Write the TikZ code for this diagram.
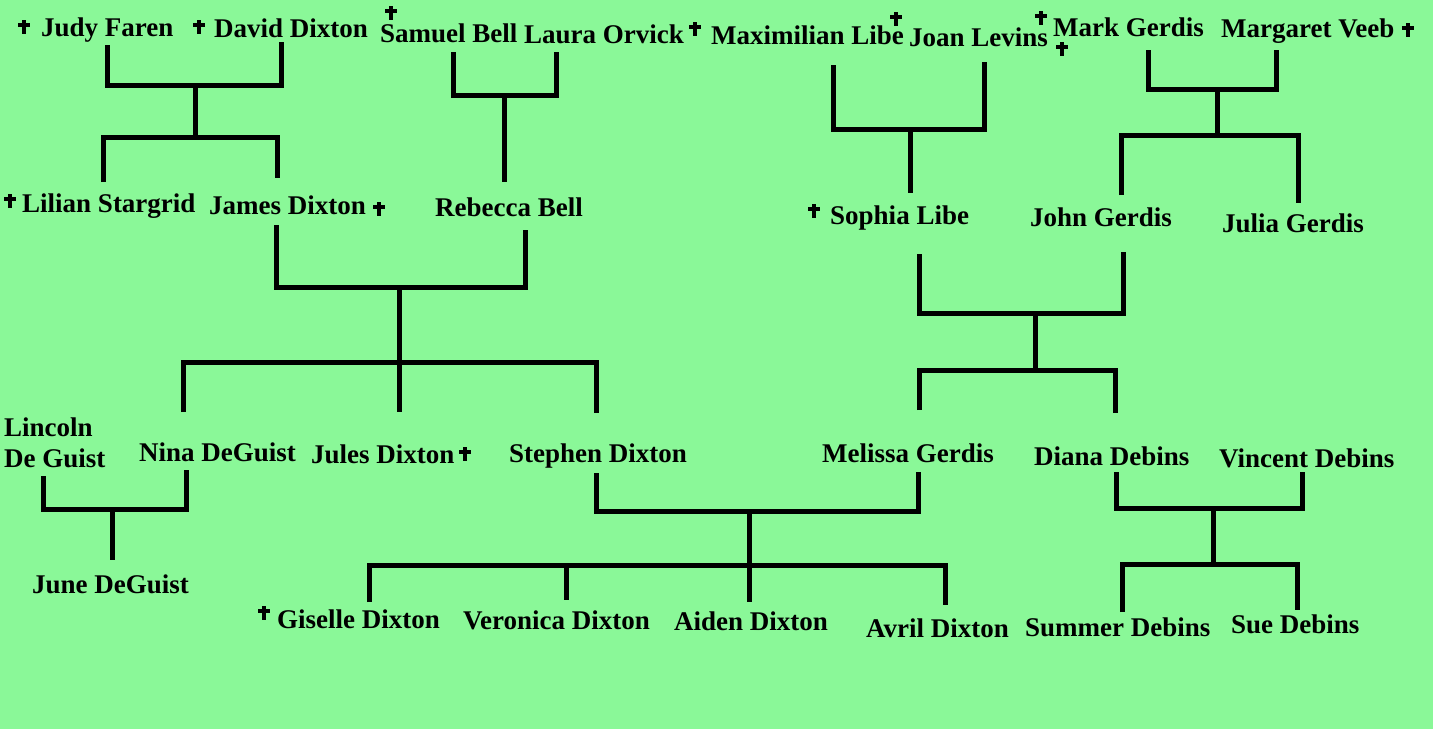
\documentclass[tikz,border=0pt]{standalone}
\usepackage{fontspec}
\setmainfont{Liberation Serif}
\usepackage{xcolor}
\usepackage{tikz}
\definecolor{treegreen}{RGB}{138,248,152}

\begin{document}
\begin{tikzpicture}[
    x=1pt, y=-1pt,
    person/.style={font=\bfseries\fontsize{27}{31}\selectfont, inner sep=0pt, anchor=base west, align=left},
    bond/.style={line width=5pt},
    deceased/.pic={\fill (-2,-7) rectangle (2,7); \fill (-6,-4.5) rectangle (6,-0.5);}
]
    \fill [treegreen] (0,0) rectangle (1433,729);
    \useasboundingbox (0,0) rectangle (1433,729);

    % oldest generation
    \node [person] (judy) at (41,36) {Judy Faren};
    \node [person] (david) at (214,37) {David Dixton};
    \node [person] (samuel) at (380,42) {Samuel Bell};
    \node [person] (laura) at (524,43) {Laura Orvick};
    \node [person] (maximilian) at (711,44) {Maximilian Libe};
    \node [person] (joan) at (909,46) {Joan Levins};
    \node [person] (mark) at (1053,36) {Mark Gerdis};
    \node [person] (margaret) at (1221,37) {Margaret Veeb};

    % second generation
    \node [person] (lilian) at (22,212) {Lilian Stargrid};
    \node [person] (james) at (209,214) {James Dixton};
    \node [person] (rebecca) at (435,216) {Rebecca Bell};
    \node [person] (sophia) at (830,224) {Sophia Libe};
    \node [person] (john) at (1030,226) {John Gerdis};
    \node [person] (julia) at (1222,232) {Julia Gerdis};

    % third generation
    \node [person] (lincoln) at (4,467) {Lincoln\\De Guist};
    \node [person] (nina) at (139,461) {Nina DeGuist};
    \node [person] (jules) at (311,463) {Jules Dixton};
    \node [person] (stephen) at (509,462) {Stephen Dixton};
    \node [person] (melissa) at (822,462) {Melissa Gerdis};
    \node [person] (diana) at (1034,465) {Diana Debins};
    \node [person] (vincent) at (1219,467) {Vincent Debins};

    % youngest generation
    \node [person] (june) at (32,593) {June DeGuist};
    \node [person] (giselle) at (277,628) {Giselle Dixton};
    \node [person] (veronica) at (463,629) {Veronica Dixton};
    \node [person] (aiden) at (674,630) {Aiden Dixton};
    \node [person] (avril) at (866,637) {Avril Dixton};
    \node [person] (summer) at (1025,636) {Summer Debins};
    \node [person] (sue) at (1231,633) {Sue Debins};

    % crosses
    \pic at (24,27) {deceased};
    \pic at (199,27) {deceased};
    \pic at (391,13) {deceased};
    \pic at (695,29) {deceased};
    \pic at (896,19) {deceased};
    \pic at (1041,18) {deceased};
    \pic at (1062,49) {deceased};
    \pic at (1408,30) {deceased};
    \pic at (10,201) {deceased};
    \pic at (379,209) {deceased};
    \pic at (814,211) {deceased};
    \pic at (465,454) {deceased};
    \pic at (264,613) {deceased};

    % marriage and child junctions
    \coordinate (dixton-m) at (195,85);
    \coordinate (dixton-c) at (195,137);
    \coordinate (bell-m) at (504,95);
    \coordinate (james-m) at (399,287);
    \coordinate (james-c) at (399,362);
    \coordinate (libe-m) at (910,129);
    \coordinate (gerdis-m) at (1217,89);
    \coordinate (gerdis-c) at (1217,135);
    \coordinate (john-m) at (1035,313);
    \coordinate (john-c) at (1035,370);
    \coordinate (nina-m) at (112,509);
    \coordinate (stephen-m) at (749,511);
    \coordinate (stephen-c) at (749,565);
    \coordinate (debins-m) at (1213,508);
    \coordinate (debins-c) at (1213,564);

    \draw [bond] (107,45) |- (dixton-m) -| (281,42);
    \draw [bond] (dixton-m) -- (dixton-c);
    \draw [bond] (103,182) |- (dixton-c) -| (277,178);

    \draw [bond] (453,52) |- (bell-m) -| (556,52);
    \draw [bond] (bell-m) -- (504,182);

    \draw [bond] (276,225) |- (james-m) -| (525,230);
    \draw [bond] (james-m) -- (399,412);
    \draw [bond] (183,412) |- (james-c) -| (596,413);

    \draw [bond] (833,65) |- (libe-m) -| (984,62);
    \draw [bond] (libe-m) -- (910,193);

    \draw [bond] (1148,50) |- (gerdis-m) -| (1276,50);
    \draw [bond] (gerdis-m) -- (gerdis-c);
    \draw [bond] (1121,195) |- (gerdis-c) -| (1298,203);

    \draw [bond] (919,254) |- (john-m) -| (1123,252);
    \draw [bond] (john-m) -- (john-c);
    \draw [bond] (919,410) |- (john-c) -| (1115,413);

    \draw [bond] (43,476) |- (nina-m) -| (186,470);
    \draw [bond] (nina-m) -- (112,560);

    \draw [bond] (596,473) |- (stephen-m) -| (918,472);
    \draw [bond] (stephen-m) -- (749,602);
    \draw [bond] (369,602) |- (stephen-c) -| (945,605);
    \draw [bond] (566,565) -- (566,600);

    \draw [bond] (1116,472) |- (debins-m) -| (1302,472);
    \draw [bond] (debins-m) -- (debins-c);
    \draw [bond] (1122,612) |- (debins-c) -| (1297,610);
\end{tikzpicture}
\end{document}
